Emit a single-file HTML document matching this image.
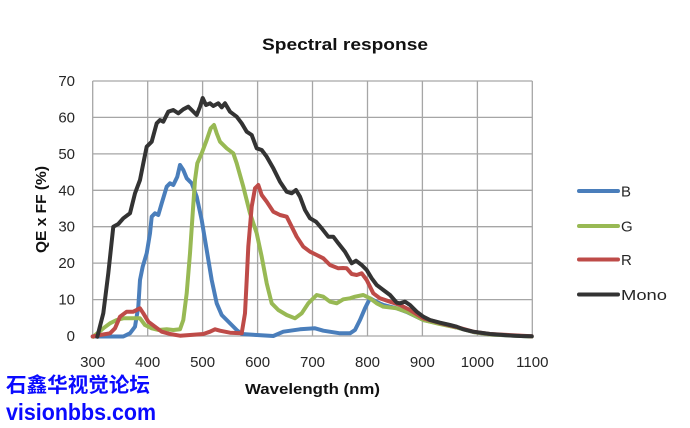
<!DOCTYPE html>
<html><head><meta charset="utf-8"><style>
html,body{margin:0;padding:0;background:#fff;}
svg{display:block;}
text{font-family:"Liberation Sans",sans-serif;}
</style></head><body>
<svg width="690" height="428" viewBox="0 0 690 428" xmlns="http://www.w3.org/2000/svg">
<rect width="690" height="428" fill="#fff"/>
<!-- grid -->
<g stroke="#a6a6a6" stroke-width="1.3" fill="none">
<line x1="92.7" y1="81" x2="532.3" y2="81"/>
<line x1="92.7" y1="117.4" x2="532.3" y2="117.4"/>
<line x1="92.7" y1="153.9" x2="532.3" y2="153.9"/>
<line x1="92.7" y1="190.3" x2="532.3" y2="190.3"/>
<line x1="92.7" y1="226.7" x2="532.3" y2="226.7"/>
<line x1="92.7" y1="263.1" x2="532.3" y2="263.1"/>
<line x1="92.7" y1="299.6" x2="532.3" y2="299.6"/>
<line x1="92.7" y1="336" x2="532.3" y2="336"/>
<line x1="92.7" y1="81" x2="92.7" y2="336"/>
<line x1="147.7" y1="81" x2="147.7" y2="336"/>
<line x1="202.6" y1="81" x2="202.6" y2="336"/>
<line x1="257.6" y1="81" x2="257.6" y2="336"/>
<line x1="312.5" y1="81" x2="312.5" y2="336"/>
<line x1="367.5" y1="81" x2="367.5" y2="336"/>
<line x1="422.4" y1="81" x2="422.4" y2="336"/>
<line x1="477.4" y1="81" x2="477.4" y2="336"/>
<line x1="532.3" y1="81" x2="532.3" y2="336"/>
</g>
<!-- series -->
<g fill="none" stroke-width="4" stroke-linejoin="round" stroke-linecap="round">
<polyline stroke="#4a7ebb" points="92.7,336.5 123.3,336.5 130,333.3 135,326.7 138.3,306.7 140,280 142.7,266.7 146.7,253.3 150,233.3 151.7,216.7 155,213.3 158.3,215 161.7,203.3 166.7,186.7 170,183.3 173.3,185 177.3,176.7 180,165 183.3,170 186.7,178.3 191.7,183.3 196.7,196.7 201.7,220 206.7,250 211.7,280 216.7,303.3 221.7,315 226.7,320 231.7,325 236.7,330 241.7,334 256.7,335 273.3,336 283.3,331.7 300,329.3 315,328.3 323.3,330.7 340,333.3 350,333.3 355,330 360,320 365,308.3 370,298.3 376.7,302 383.3,305 396.7,308.3 406.7,312 423.3,320 440,323.5 456.7,327.5 473.3,332 490,334.5 531.7,336.5"/>
<polyline stroke="#98b954" points="93.3,336.7 103.3,328.3 110,323.3 116.7,320 123.3,318.3 140,318.3 145,325 151.7,328.3 158.3,330 166.7,329.3 173.3,330 180,329.3 183.3,320 186.7,293.3 190,253.3 192.7,213.3 195,180 197.3,163.3 201.7,153.3 206.7,140 210.7,128.3 214,125 216.7,133.3 220,141.7 226.7,148.3 233.3,153.3 236.7,163.3 243.3,186.7 250,213.3 256.7,233.3 261.7,256.7 266.7,283.3 271.7,303.3 278.3,310 286.7,315 295,318.3 301.7,313.3 308.3,303.3 316.7,295 323.3,296.7 330,301.7 336.7,303.3 343.3,299.3 350,298.3 355,296.7 363.3,295 370,298.3 376.7,303.3 383.3,306.7 396.7,308.3 406.7,311.7 423.3,320 440,324 456.7,327.5 473.3,332 490,334.5 531.7,336.5"/>
<polyline stroke="#be4b48" points="92.7,336.5 100,335 110,333.3 115,328.3 120,316.7 126.7,311.7 133.3,311.7 140,308.3 143.3,313.3 148.3,321.7 155,326.7 161.7,331.7 170,334 180,335.7 190,335 203.3,334 210,331.7 215,329.3 220,330.7 230,332.7 241.7,333.3 245,313.3 246.7,280 248.3,246.7 251.7,206.7 255,188.3 258.3,185 261.7,195 266.7,201.7 273.3,211.7 280,215 286.7,216.7 291.7,226.7 296.7,236.7 303.3,246.7 310,251.7 316.7,255 323.3,258.3 330,265 338.3,268.3 343,268 346.7,268.3 351.7,274 356.7,275 361.7,273.3 366.7,280 373.3,293.3 380,298.3 390,301.7 400,305 410,310 423.3,318.3 440,323 456.7,327 473.3,331.7 490,334 531.7,336.3"/>
<polyline stroke="#333333" points="97.3,336.7 103.3,313.3 108.3,273.3 113.3,226.7 118.3,224 123.3,218.3 130,213.3 135,193.3 140,180 143.3,163.3 146.7,146.7 151.7,141.7 156.7,123.3 160,120 163.3,121.7 168.3,111.7 173.3,110 178.3,113.3 183.3,109.3 188.3,106.7 191.7,110 196.7,115 200,106.7 202.7,98 206,105 210,103.3 213.3,106 218.3,103.3 221.7,107.3 225,103.3 230,111.7 236.7,116.7 241.7,123.3 246.7,131.7 251.7,135 256.7,148.3 261.7,150 266.7,156.7 273.3,168.3 280,181.7 286.7,191.7 291.7,193.3 296,190 300,196.7 305,210 310,218.3 316,221.7 321.7,228.3 328.3,236.7 333.3,236.7 338.3,243.3 345,251.7 351.7,263.3 356,260.7 361.7,265 366.7,270 371.7,278.3 376.7,285 383.3,290 390,295 396.7,302.7 400,303.3 405,301.7 410,305 416.7,311.7 423.3,316.7 430,320 440,322.7 450,325 456.7,326.7 463.3,329.3 473.3,331.7 490,334 506.7,335.3 520,336 531.7,336.3"/>
</g>
<!-- y tick labels -->
<g font-size="15" fill="#262626" text-anchor="end">
<text x="75" y="86">70</text>
<text x="75" y="122.4">60</text>
<text x="75" y="158.9">50</text>
<text x="75" y="195.3">40</text>
<text x="75" y="231.7">30</text>
<text x="75" y="268.1">20</text>
<text x="75" y="304.6">10</text>
<text x="75" y="341">0</text>
</g>
<!-- x tick labels -->
<g font-size="15" fill="#262626" text-anchor="middle">
<text x="92.7" y="367">300</text>
<text x="147.7" y="367">400</text>
<text x="202.6" y="367">500</text>
<text x="257.6" y="367">600</text>
<text x="312.5" y="367">700</text>
<text x="367.5" y="367">800</text>
<text x="422.4" y="367">900</text>
<text x="477.4" y="367">1000</text>
<text x="532.3" y="367">1100</text>
</g>
<!-- titles -->
<text x="262" y="50" font-size="17" font-weight="bold" fill="#111" textLength="166" lengthAdjust="spacingAndGlyphs">Spectral response</text>
<text x="245" y="394" font-size="15" font-weight="bold" fill="#111" textLength="135" lengthAdjust="spacingAndGlyphs">Wavelength (nm)</text>
<text transform="translate(46,253) rotate(-90)" font-size="15" font-weight="bold" fill="#111" textLength="87" lengthAdjust="spacingAndGlyphs">QE x FF (%)</text>
<!-- legend -->
<g stroke-width="4" stroke-linecap="round">
<line x1="579" y1="191" x2="618" y2="191" stroke="#4a7ebb"/>
<line x1="579" y1="226" x2="618" y2="226" stroke="#98b954"/>
<line x1="579" y1="259.5" x2="618" y2="259.5" stroke="#be4b48"/>
<line x1="579" y1="294.5" x2="618" y2="294.5" stroke="#333333"/>
</g>
<g font-size="15" fill="#262626">
<text x="621" y="196.5">B</text>
<text x="621" y="231.5">G</text>
<text x="621" y="265">R</text>
<text x="621" y="300" textLength="46" lengthAdjust="spacingAndGlyphs">Mono</text>
</g>
<!-- watermark -->
<text x="6" y="392" font-size="20.5" font-weight="bold" fill="#0a0aff" style="font-family:'Liberation Sans','Noto Sans CJK SC',sans-serif" textLength="144" lengthAdjust="spacingAndGlyphs">石鑫华视觉论坛</text>
<text x="6" y="420" font-size="23" font-weight="bold" fill="#0a0aff" textLength="150" lengthAdjust="spacingAndGlyphs">visionbbs.com</text>
</svg>
</body></html>
